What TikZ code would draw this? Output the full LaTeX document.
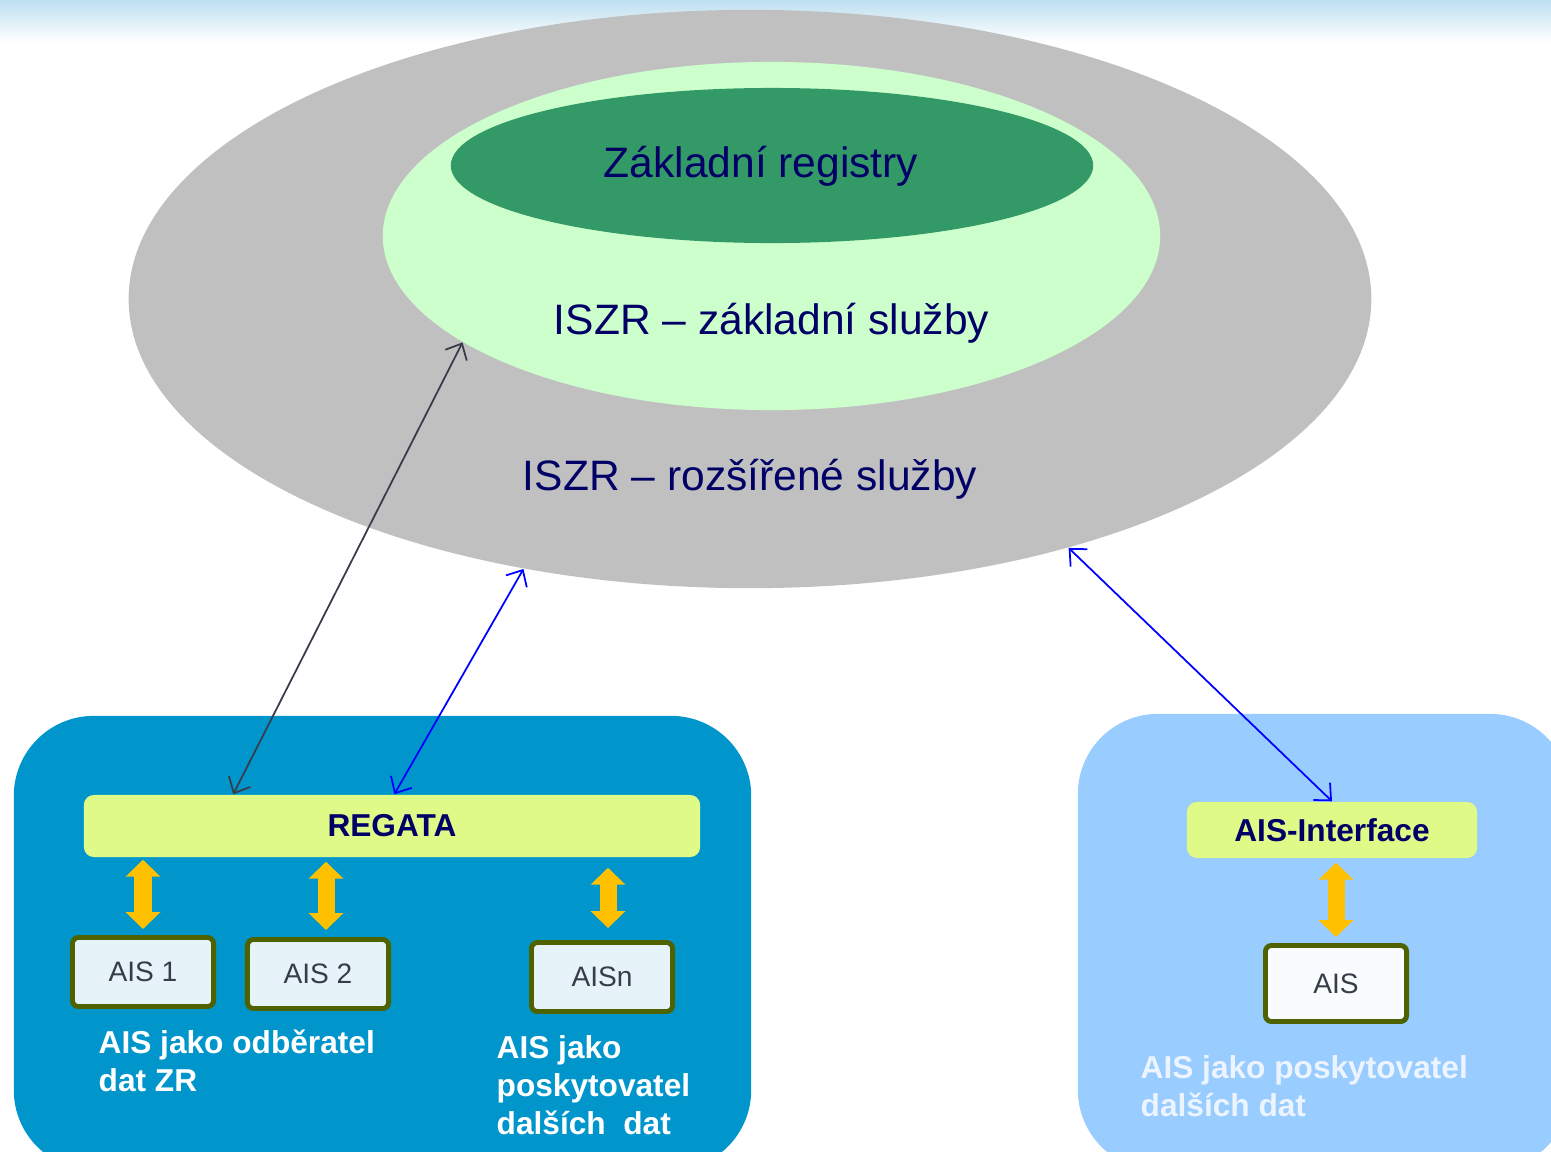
\documentclass[tikz,border=0pt]{standalone}
\usepackage{fontspec}
\setmainfont{Liberation Sans}
\usetikzlibrary{arrows.meta,shapes.geometric}
\definecolor{topblue}{RGB}{189,223,240}
\definecolor{ringgray}{RGB}{192,192,192}
\definecolor{palegreen}{RGB}{204,255,204}
\definecolor{zrgreen}{RGB}{51,153,102}
\definecolor{navy}{RGB}{0,0,102}
\definecolor{deepblue}{RGB}{0,150,204}
\definecolor{skyblue}{RGB}{153,204,255}
\definecolor{lime}{RGB}{224,250,136}
\definecolor{olive}{RGB}{79,98,0}
\definecolor{boxfill}{RGB}{230,244,250}
\definecolor{boxtext}{RGB}{55,60,72}
\definecolor{amber}{RGB}{255,192,0}
\definecolor{darkline}{RGB}{55,60,72}
\definecolor{palewhite}{RGB}{236,244,255}

\begin{document}
\begin{tikzpicture}[x=0.01cm, y=-0.01cm,
  oval/.style={shape=ellipse, inner sep=0pt},
  bigtext/.style={text=navy, font=\fontsize{12.1pt}{14.5pt}\selectfont},
  panel/.style={rounded corners=0.8cm, inner sep=0pt},
  bar/.style={fill=lime, rounded corners=0.1cm, inner sep=0pt, text=navy, font=\bfseries\fontsize{9pt}{11pt}\selectfont},
  aisbox/.style={draw=olive, line width=1.4pt, fill=boxfill, rounded corners=0.06cm, minimum width=1.41cm, minimum height=0.69cm, inner sep=0pt, text=boxtext, font=\fontsize{8pt}{10pt}\selectfont},
  caption/.style={anchor=west, align=left, inner sep=0pt, text=white, font=\bfseries\fontsize{9pt}{10.8pt}\selectfont},
  thinarr/.style={line width=0.5pt, arrows={Straight Barb[length=0.13cm,width=0.24cm]-Straight Barb[length=0.13cm,width=0.24cm]}},
  fatarr/.style={draw=amber, line width=0.17cm, arrows={Triangle[width=0.34cm,length=0.17cm]-Triangle[width=0.34cm,length=0.17cm]}}]
\useasboundingbox (0,0) rectangle (1551,1151);
\shade[top color=topblue, bottom color=white] (0,0) rectangle (1551,42);

\node[oval, fill=ringgray, minimum width=12.42cm, minimum height=5.78cm] (rozsir) at (750,299) {};
\node[oval, fill=palegreen, minimum width=7.77cm, minimum height=3.48cm] (zaklsl) at (771.5,236) {};
\node[oval, fill=zrgreen, minimum width=6.42cm, minimum height=1.55cm] (zr) at (772,165.5) {};
\node[bigtext] (zrtext) at (761,166) {Základní registry};
\node[bigtext] (zaklsltext) at (771.5,323) {ISZR – základní služby};
\node[bigtext] (rozsirtext) at (750,479) {ISZR – rozšířené služby};

\node[panel, fill=deepblue, minimum width=7.37cm, minimum height=4.54cm] (odber) at (382.5,943) {};
\node[panel, fill=skyblue, minimum width=4.92cm, minimum height=4.56cm] (poskyt) at (1324,942) {};

\node[bar, minimum width=6.16cm, minimum height=0.62cm] (regata) at (392,826) {REGATA};
\node[bar, minimum width=2.9cm, minimum height=0.56cm] (aisif) at (1332,830) {AIS-Interface};

\node[aisbox] (ais1) at (143,972) {AIS 1};
\node[aisbox] (ais2) at (318,974) {AIS 2};
\node[aisbox] (aisn) at (602,977) {AISn};
\node[aisbox, fill=white!70!boxfill, minimum height=0.76cm] (ais) at (1336,983.5) {AIS};

\node[caption] (cap1) at (98,1061) {AIS jako odběratel\\dat ZR};
\node[caption] (cap2) at (496,1085) {AIS jako\\poskytovatel\\dalších\ \ dat};
\node[caption, text=palewhite] (cap3) at (1140,1086) {AIS jako poskytovatel\\dalších dat};

\draw[thinarr, draw=darkline] (zaklsl.199) -- ([xshift=1.5cm]regata.north west);
\draw[thinarr, draw=blue] (rozsir.230) -- ([xshift=3.11cm]regata.north west);
\draw[thinarr, draw=blue] (rozsir.322) -- (aisif.north);

\draw[fatarr, shorten <=0.02cm, shorten >=0.06cm] (ais1.north |- regata.south) -- (ais1.north);
\draw[fatarr, shorten <=0.04cm, shorten >=0.07cm] ([xshift=0.08cm]ais2.north |- regata.south) -- ([xshift=0.08cm]ais2.north);
\draw[fatarr, shorten <=0.1cm, shorten >=0.12cm] ([xshift=0.06cm]aisn.north |- regata.south) -- ([xshift=0.06cm]aisn.north);
\draw[fatarr, shorten <=0.04cm, shorten >=0.06cm] (ais.north |- aisif.south) -- (ais.north);
\end{tikzpicture}
\end{document}
